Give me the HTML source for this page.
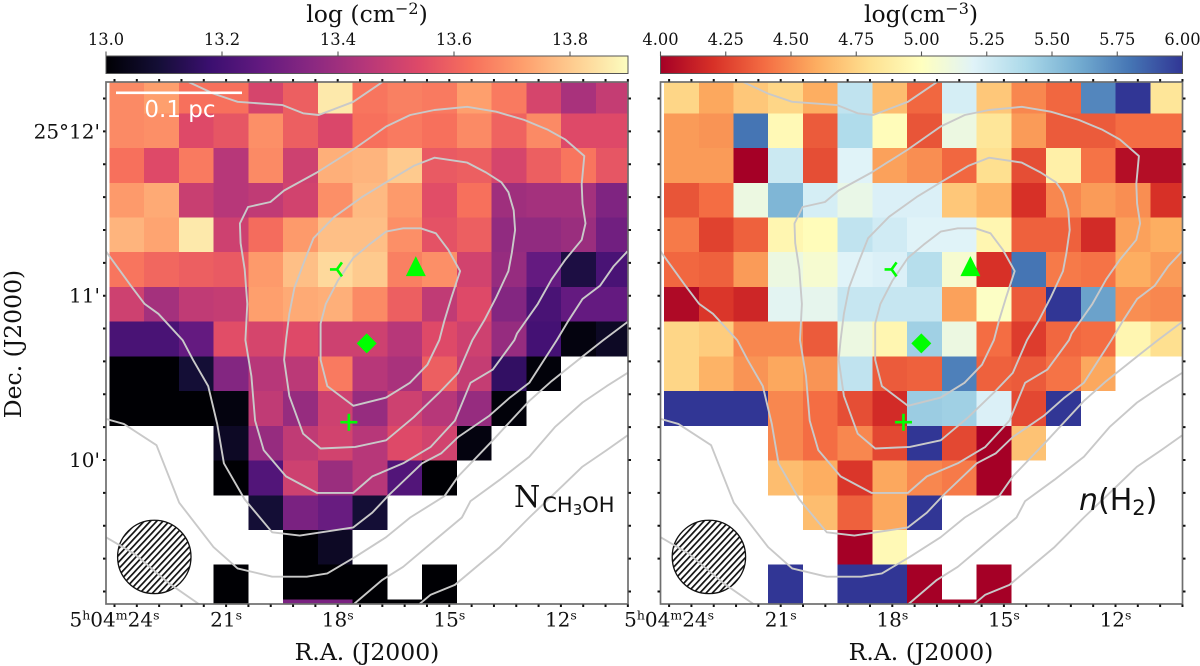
<!DOCTYPE html>
<html lang="en">
<head>
<meta charset="utf-8">
<title>CH3OH column density and H2 density maps</title>
<style>
html,body{margin:0;padding:0;background:#fff;width:1200px;height:666px;overflow:hidden}
svg{display:block}
text{font-family:"DejaVu Serif","Liberation Serif",serif;fill:#111}
.sans{font-family:"DejaVu Sans","Liberation Sans",sans-serif}
</style>
</head>
<body>
<svg id="figure" xmlns="http://www.w3.org/2000/svg" width="1200" height="666" viewBox="0 0 1200 666">
  <defs>
    <pattern id="beam-hatch" width="4.6" height="4.6" patternUnits="userSpaceOnUse" patternTransform="rotate(-47)">
      <rect width="4.6" height="4.6" fill="#fff"></rect>
      <rect width="4.6" height="1.7" fill="#111"></rect>
    </pattern>
    <clipPath id="clip-left"><rect x="106" y="82" width="522" height="522"></rect></clipPath>
    <clipPath id="clip-right"><rect x="660.5" y="82" width="522" height="522"></rect></clipPath>
  </defs>
  <g id="panel-left"></g>
  <g id="panel-right"></g>

  <text x="367" y="22" text-anchor="middle" font-size="23.5">log (cm<tspan font-size="16" dy="-8">−2</tspan><tspan dy="8">)</tspan></text>
  <text x="921" y="22" text-anchor="middle" font-size="23.5">log(cm<tspan font-size="16" dy="-8">−3</tspan><tspan dy="8">)</tspan></text>
  <text x="367" y="660" text-anchor="middle" font-size="23.5">R.A. (J2000)</text>
  <text x="921" y="660" text-anchor="middle" font-size="23.5">R.A. (J2000)</text>
  <text transform="translate(21,344) rotate(-90)" text-anchor="middle" font-size="23.5">Dec. (J2000)</text>

  <g>
    <rect x="116" y="91.5" width="126" height="2.6" fill="#fff"></rect>
    <text class="sans" x="180" y="117" text-anchor="middle" font-size="23" style="fill:#fff">0.1 pc</text>
  </g>
  <text x="514" y="507" font-size="30">N<tspan class="sans" font-size="21" dy="5" dx="2">CH</tspan><tspan class="sans" font-size="15" dy="3">3</tspan><tspan class="sans" font-size="21" dy="-3">OH</tspan></text>
  <text class="sans" x="1079" y="510" font-size="30"><tspan font-style="italic">n</tspan>(H<tspan font-size="21" dy="5">2</tspan><tspan dy="-5">)</tspan></text>
</svg>

<script>
const NA = null;

/* log column density of CH3OH (log cm^-2), rows north to south, columns east to west */
const columnDensity = [
[13.68,13.72,13.63,13.63,13.52,13.59,13.86,13.64,13.66,13.65,13.72,13.65,13.52,13.42,13.48],
[13.68,13.69,13.54,13.57,13.69,13.59,13.53,13.63,13.65,13.63,13.68,13.60,13.68,13.54,13.54],
[13.63,13.54,13.65,13.45,13.68,13.50,13.75,13.76,13.80,13.58,13.59,13.52,13.59,13.64,13.57],
[13.71,13.74,13.49,13.45,13.47,13.51,13.69,13.77,13.71,13.55,13.63,13.40,13.41,13.41,13.33],
[13.76,13.73,13.86,13.50,13.62,13.71,13.78,13.78,13.69,13.56,13.59,13.37,13.37,13.39,13.30],
[13.64,13.61,13.59,13.58,13.71,13.78,13.83,13.80,13.66,13.69,13.51,13.38,13.27,13.11,13.21],
[13.50,13.41,13.47,13.48,13.72,13.74,13.75,13.68,13.59,13.47,13.54,13.34,13.21,13.27,13.27],
[13.21,13.21,13.27,13.55,13.52,13.54,13.50,13.50,13.45,13.54,13.50,13.38,13.20,13.02,13.06],
[13.00,13.00,13.09,13.34,13.45,13.46,13.65,13.45,13.42,13.59,13.48,13.16,13.01,NA,NA],
[13.00,13.00,13.00,13.02,13.47,13.38,13.50,13.38,13.50,13.45,13.38,13.01,NA,NA,NA],
[NA,NA,NA,13.06,13.38,13.47,13.51,13.45,13.54,13.51,13.02,NA,NA,NA,NA],
[NA,NA,NA,13.00,13.23,13.50,13.39,13.45,13.23,13.00,NA,NA,NA,NA,NA],
[NA,NA,NA,NA,13.09,13.32,13.28,13.09,NA,NA,NA,NA,NA,NA,NA],
[NA,NA,NA,NA,NA,13.00,13.06,NA,NA,NA,NA,NA,NA,NA,NA],
[NA,NA,NA,13.00,NA,13.00,13.00,13.00,NA,13.00,NA,NA,NA,NA,NA],
[NA,NA,NA,13.00,NA,13.32,13.32,13.00,13.00,13.00,NA,NA,NA,NA,NA]
];

/* log H2 volume density (log cm^-3) */
const h2Density = [
[4.76,4.58,4.70,4.76,4.60,5.32,4.66,4.38,5.24,4.70,4.48,4.38,5.74,6.00,4.84],
[4.54,4.52,5.80,4.96,4.34,5.38,4.98,4.32,5.12,4.84,4.54,4.34,4.34,4.40,4.40],
[4.54,4.54,4.00,5.28,4.30,5.20,4.56,4.50,4.38,4.80,4.30,4.90,4.42,4.06,4.06],
[4.32,4.40,5.12,5.56,5.24,5.14,5.22,5.22,4.70,4.62,4.20,4.48,4.54,4.50,4.20],
[4.44,4.26,4.36,4.94,4.98,5.32,5.26,5.20,5.20,4.94,4.36,4.36,4.18,4.56,4.60],
[4.38,4.36,4.54,5.12,5.06,5.20,5.22,5.36,5.06,4.20,5.80,4.44,4.42,4.60,4.54],
[4.04,4.22,4.16,5.18,5.16,5.30,5.30,5.30,4.56,5.02,4.34,6.00,5.64,4.50,4.48],
[4.76,4.72,4.48,4.48,4.34,5.12,4.94,5.44,5.12,4.40,4.24,4.38,4.40,4.94,4.80],
[4.76,4.62,4.52,4.58,4.52,5.32,4.34,4.36,5.76,4.36,4.34,4.42,4.58,NA,NA],
[6.00,6.00,6.00,4.48,4.40,4.30,4.18,5.46,5.44,5.22,4.28,6.00,NA,NA,NA],
[NA,NA,NA,4.48,4.40,4.48,4.28,6.00,4.28,4.00,4.68,NA,NA,NA,NA],
[NA,NA,NA,4.66,4.60,4.22,4.58,4.48,4.44,4.00,NA,NA,NA,NA,NA],
[NA,NA,NA,NA,4.66,4.36,4.58,6.00,NA,NA,NA,NA,NA,NA,NA],
[NA,NA,NA,NA,NA,4.00,4.96,NA,NA,NA,NA,NA,NA,NA,NA],
[NA,NA,NA,6.00,NA,6.00,6.00,4.00,NA,4.00,NA,NA,NA,NA,NA],
[NA,NA,NA,6.00,NA,6.00,6.00,4.00,4.00,4.00,NA,NA,NA,NA,NA]
];

/* colorbar ticks */
const columnTicks = [13.0, 13.2, 13.4, 13.6, 13.8];
const columnTickLabels = ["13.0", "13.2", "13.4", "13.6", "13.8"];
const h2Ticks = [4.0, 4.25, 4.5, 4.75, 5.0, 5.25, 5.5, 5.75, 6.0];
const h2TickLabels = ["4.00", "4.25", "4.50", "4.75", "5.00", "5.25", "5.50", "5.75", "6.00"];

/* axis ticks: R.A. seconds past 5h04m, Dec. arcminutes past 25 deg 10' */
const raMajorTicks = [24, 21, 18, 15, 12];
const raMajorLabels = ["24", "21", "18", "15", "12"];
const decMajorTicks = [2, 1, 0];
const decMajorLabels = ["25°12'", "11'", "10'"];

/* dust continuum contours as [R.A. seconds, Dec. arcmin] */
const contourPeak = [[18.46,.83],[18.32,.95],[18,1.09],[17.58,1.23],[17.16,1.31],[16.7,1.39],[16.24,1.41],[15.77,1.41],[15.36,1.38],[15.03,1.28],[14.71,1.15],[14.94,.99],[15.13,.85],[15.27,.73],[15.59,.58],[16.06,.47],[16.7,.38],[17.58,.33],[18.28,.45],[18.46,.61]];
const contourInner = [[19.39,.73],[19.30,.89],[19.16,1.05],[18.88,1.22],[18.65,1.35],[18.09,1.48],[17.35,1.60],[16.70,1.69],[15.96,1.79],[15.40,1.84],[14.52,1.81],[14.01,1.75],[13.60,1.69],[13.41,1.63],[13.27,1.52],[13.23,1.40],[13.32,1.26],[13.41,1.15],[13.74,.99],[14.06,.85],[14.38,.73],[14.76,.53],[15.27,.41],[15.96,.26],[16.70,.12],[17.53,.08],[18.46,.07],[18.93,.16],[19.30,.39],[19.44,.61]];
const contourMiddle = [[20.48,.73],[20.43,.95],[20.50,1.16],[20.61,1.32],[20.63,1.44],[20.41,1.54],[19.81,1.57],[19.44,1.64],[18.56,1.75],[17.58,1.89],[16.70,2.03],[16.05,2.10],[15.40,2.13],[14.52,2.15],[13.74,2.12],[12.99,2.07],[12.35,2.01],[11.88,1.95],[11.37,1.85],[11.44,1.68],[11.42,1.56],[11.34,1.44],[11.44,1.34],[11.88,1.22],[12.25,1.10],[12.62,.95],[13.18,.77],[13.25,.73],[13.83,.55],[14.43,.47],[14.85,.24],[15.50,.08],[16.24,-.02],[17.07,-.10],[17.58,-.20],[18.56,-.20],[19.39,-.10],[19.99,.06],[20.22,.24],[20.32,.51]];
const contourOuter = [[24.23,1.27],[23.56,1.06],[23.19,.95],[22.82,.89],[22.17,.73],[21.89,.61],[21.48,.45],[21.24,.22],[21.06,-.02],[20.50,-.24],[19.76,-.44],[19.02,-.46],[17.58,-.41],[17.07,-.32],[16.61,-.21],[15.73,-.02],[15.22,.04],[14.76,.14],[13.92,.27],[13.37,.38],[12.85,.47],[12.11,.73],[11.79,.85],[11.42,.98],[10.95,1.06],[10.58,1.18],[10.21,1.27]];
const contourTopArc = [[22.00,2.30],[21.34,2.23],[20.69,2.18],[19.48,2.16],[18.93,2.11],[18.51,2.10],[17.58,2.18],[16.80,2.30]];
const contourWide = [[24.23,.25],[23.75,.22],[22.87,.09],[22.26,-.26],[21.34,-.53],[20.69,-.66],[19.76,-.71],[18.83,-.71],[18.28,-.69],[17.53,-.59],[16.70,-.47],[16.05,-.35],[15.13,-.22],[14.76,-.10],[13.83,.12],[12.85,.36],[12.25,.48],[11.42,.63],[10.86,.73],[10.21,.84]];
const contourFarEast = [[10.21,.53],[10.77,.45],[11.42,.35],[12.16,.20],[12.85,.02],[13.64,-.12],[14.43,-.25],[14.66,-.35],[15.40,-.49],[16.24,-.65],[16.80,-.73],[17.58,-.88]];
const contourCorner = [[24.23,-.47],[23.47,-.57],[22.54,-.75],[21.71,-.88]];
const contourEdge = [[10.21,.15],[10.77,.06],[11.42,-.04],[11.97,-.16],[12.85,-.35],[13.64,-.53],[14.48,-.69],[14.85,-.76],[15.50,-.82],[15.82,-.88]];

/* source markers as [R.A. seconds, Dec. arcmin] */
const markerTriLeft = [18.02, 1.16];
const markerTriangle = [15.90, 1.18];
const markerDiamond = [17.22, 0.71];
const markerPlus = [17.70, 0.23];
const beamCentre = [22.93, -0.59];

/* colormap anchors */
const magmaStops = ["#000004","#140e36","#3b0f70","#641a80","#8c2981","#b73779","#de4968","#f7705c","#fe9f6d","#fecf92","#fcfdbf"];
const rdylbuStops = ["#a50026","#d73027","#f46d43","#fdae61","#fee090","#ffffbf","#e0f3f8","#abd9e9","#74add1","#4575b4","#313695"];

const SVGNS = "http://www.w3.org/2000/svg";
const RA_ORIGIN = 24, RA_SCALE = 37.2, DEC_ORIGIN_Y = 460, DEC_SCALE = 164.3;
const CELL_RA_START = 24.137, CELL_RA_STEP = 0.9341, CELL_DEC_START = 2.321, CELL_DEC_STEP = 0.2113;
const PANEL_LEFT = 106, PANEL_TOP = 82, PANEL_SIZE = 522, BAR_TOP = 56, BAR_HEIGHT = 17.5;

function hex(c){ return [1,3,5].map(function(i){ return parseInt(c.substr(i,2),16); }); }
function cmap(stops,t){
  t = Math.max(0,Math.min(1,t));
  const p = t*(stops.length-1), i = Math.min(stops.length-2,Math.floor(p)), f = p-i;
  const a = hex(stops[i]), b = hex(stops[i+1]);
  return "rgb("+a.map(function(v,k){ return Math.round(v+(b[k]-v)*f); }).join(",")+")";
}
function make(tag,parent,attrs){
  const el = document.createElementNS(SVGNS,tag);
  for(const k in attrs){ el.setAttribute(k,attrs[k]); }
  parent.appendChild(el);
  return el;
}

function drawPanel(p){
  const root = document.getElementById(p.id);
  const xOf = function(ra){ return p.tickZero + (RA_ORIGIN-ra)*RA_SCALE; };
  const yOf = function(dec){ return DEC_ORIGIN_Y - dec*DEC_SCALE; };
  const norm = function(v){ return (v-p.vmin)/(p.vmax-p.vmin); };
  const barX = function(v){ return p.left + norm(v)*PANEL_SIZE; };

  /* heatmap */
  const cells = make("g",root,{"clip-path":"url(#"+p.clip+")","shape-rendering":"crispEdges"});
  
  
  p.values.forEach(function(row,r){
    row.forEach(function(v,c){
      if(v===null) return;
      const x0 = xOf(CELL_RA_START-c*CELL_RA_STEP), x1 = xOf(CELL_RA_START-(c+1)*CELL_RA_STEP);
      const y0 = yOf(CELL_DEC_START-r*CELL_DEC_STEP), y1 = yOf(CELL_DEC_START-(r+1)*CELL_DEC_STEP);
      const cell = make("rect",cells,{x:x0,y:y0,width:x1-x0,height:y1-y0,fill:cmap(p.stops,norm(v))});
      
      
    });
  });

  /* beam */
  const beam = make("circle",root,{cx:xOf(beamCentre[0]),cy:yOf(beamCentre[1]),r:36.7,fill:"url(#beam-hatch)",stroke:"#111","stroke-width":1.3});
  
  

  /* contours */
  const cg = make("g",root,{"clip-path":"url(#"+p.clip+")",fill:"none",stroke:"#c9c9c9","stroke-width":1.9,"stroke-linejoin":"round"});
  
  
  [[contourPeak,true],[contourInner,true],[contourMiddle,true],[contourOuter,false],[contourTopArc,false],[contourWide,false],[contourFarEast,false],[contourCorner,false],[contourEdge,false]].forEach(function(item){
    const d = item[0].map(function(pt,i){ return (i?"L":"M")+xOf(pt[0]).toFixed(1)+" "+yOf(pt[1]).toFixed(1); }).join(" ")+(item[1]?" Z":"");
    const line = make("path",cg,{d:d});
    
    
  });

  /* markers */
  const lime = "#00ff00";
  const mg = make("g",root,{});
  
  
  let mx = xOf(markerTriLeft[0]), my = yOf(markerTriLeft[1]);
  const tri = make("path",mg,{d:"M"+(mx-7)+" "+my+" H"+mx+" L"+(mx+5)+" "+(my-7)+" M"+mx+" "+my+" L"+(mx+5)+" "+(my+7),fill:"none",stroke:lime,"stroke-width":2.6});
  
  
  mx = xOf(markerTriangle[0]); my = yOf(markerTriangle[1]);
  const tg = make("path",mg,{d:"M"+mx+" "+(my-10)+" L"+(mx+10)+" "+(my+10)+" H"+(mx-10)+" Z",fill:lime});
  
  
  mx = xOf(markerDiamond[0]); my = yOf(markerDiamond[1]);
  const dm = make("path",mg,{d:"M"+mx+" "+(my-10)+" L"+(mx+10)+" "+my+" L"+mx+" "+(my+10)+" L"+(mx-10)+" "+my+" Z",fill:lime});
  
  
  mx = xOf(markerPlus[0]); my = yOf(markerPlus[1]);
  const pl = make("path",mg,{d:"M"+(mx-8.5)+" "+my+" H"+(mx+8.5)+" M"+mx+" "+(my-8.5)+" V"+(my+8.5),fill:"none",stroke:lime,"stroke-width":2.6});
  
  

  /* frame */
  const frame = make("rect",root,{x:p.left,y:PANEL_TOP,width:PANEL_SIZE,height:PANEL_SIZE,fill:"none",stroke:"#6e6e6e","stroke-width":1.7});
  
  

  /* ticks on all four sides */
  let tickPath = "";
  for(let k=0;k<24;k++){
    const x = xOf(RA_ORIGIN-0.6*k);
    tickPath += "M"+x+" "+(PANEL_TOP-3)+" V"+(PANEL_TOP-0.5)+" M"+x+" "+(PANEL_TOP+PANEL_SIZE+0.5)+" V"+(PANEL_TOP+PANEL_SIZE+3)+" ";
  }
  for(let k=-1;k<15;k++){
    const y = yOf(2-0.2*k);
    tickPath += "M"+(p.left-3)+" "+y+" H"+(p.left-0.5)+" M"+(p.left+PANEL_SIZE+0.5)+" "+y+" H"+(p.left+PANEL_SIZE+3)+" ";
  }
  const ticks = make("path",root,{d:tickPath,stroke:"#111","stroke-width":2,fill:"none"});
  
  

  /* R.A. tick labels */
  raMajorTicks.forEach(function(ra,i){
    const t = make("text",root,{x:xOf(ra),y:626.5,"text-anchor":"middle","font-size":20});
    
    
    const parts = i===0 ? [["5",0],["h",1],["04",0],["m",1],[raMajorLabels[i],0],["s",1]] : [[raMajorLabels[i],0],["s",1]];
    let shift = 0;
    parts.forEach(function(part){
      const s = make("tspan",t,{});
      if(part[1]){ s.setAttribute("font-size","12.5"); }
      const target = part[1] ? -7 : 0;
      s.setAttribute("dy",target-shift);
      shift = target;
      s.textContent = part[0];
    });
  });

  /* Dec. tick labels */
  if(p.showDec){
    decMajorTicks.forEach(function(dec,i){
      const t = make("text",root,{x:p.left-6,y:yOf(dec)+7,"text-anchor":"end","font-size":20});
      
      
      t.textContent = decMajorLabels[i];
    });
  }

  /* colorbar */
  const defs = document.querySelector("svg defs");
  const grad = make("linearGradient",defs,{id:p.id+"-grad",x1:0,x2:1,y1:0,y2:0});
  p.stops.forEach(function(c,i){
    make("stop",grad,{offset:i/(p.stops.length-1),"stop-color":c});
  });
  const bar = make("rect",root,{x:p.left,y:BAR_TOP,width:PANEL_SIZE,height:BAR_HEIGHT,fill:"url(#"+p.id+"-grad)",stroke:"#555","stroke-width":1});
  
  
  p.ticks.forEach(function(v,i){
    const tk = make("line",root,{x1:barX(v),x2:barX(v),y1:BAR_TOP-4.5,y2:BAR_TOP,stroke:"#555","stroke-width":1.1});
    
    
    const lb = make("text",root,{x:barX(v),y:45,"text-anchor":"middle","font-size":16.3});
    
    
    lb.textContent = p.tickLabels[i];
  });
}

drawPanel({id:"panel-left",clip:"clip-left",left:PANEL_LEFT,tickZero:114.5,values:columnDensity,stops:magmaStops,vmin:13.0,vmax:13.9,ticks:columnTicks,tickLabels:columnTickLabels,showDec:true});
drawPanel({id:"panel-right",clip:"clip-right",left:660.5,tickZero:669.1,values:h2Density,stops:rdylbuStops,vmin:4.0,vmax:6.0,ticks:h2Ticks,tickLabels:h2TickLabels,showDec:false});
</script>
</body>
</html>
